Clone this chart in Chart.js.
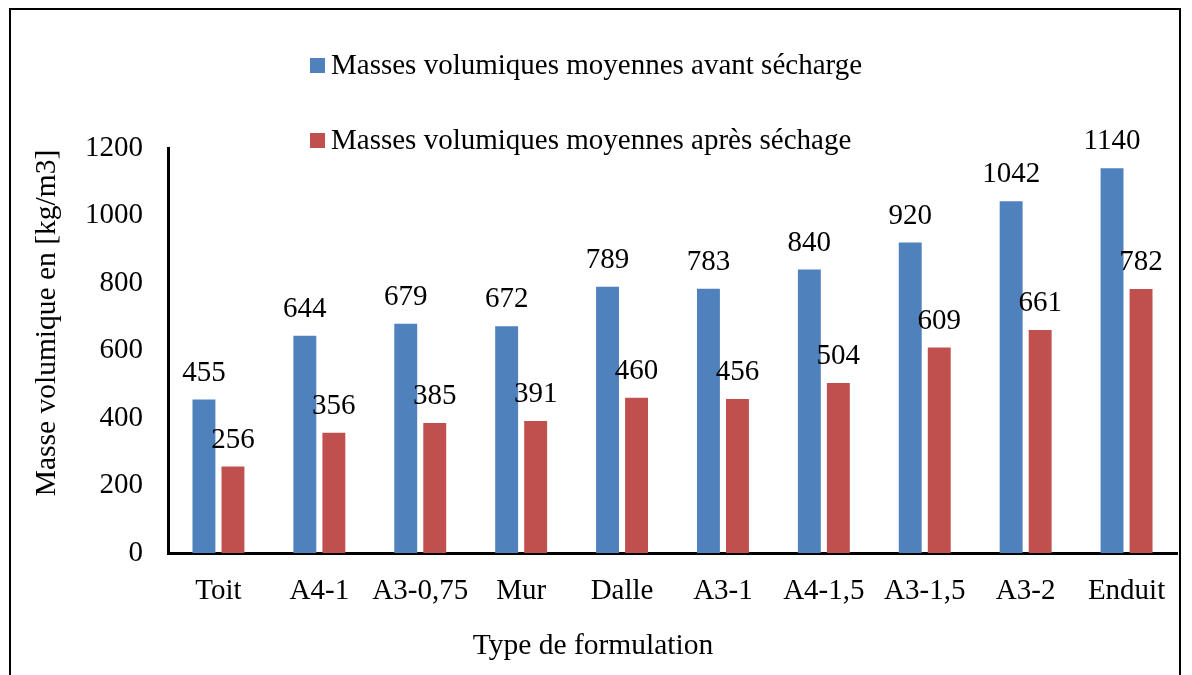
<!DOCTYPE html>
<html>
<head>
<meta charset="utf-8">
<script src="https://cdn.jsdelivr.net/npm/chart.js@4.4.1/dist/chart.umd.min.js"></script>
<style>
  html, body { margin: 0; padding: 0; background: #fff; }
  #wrap { width: 1192px; height: 675px; position: relative; }
</style>
</head>
<body>
<div id="wrap"><canvas id="chartMasses"></canvas></div>
<script>
// données
const categories = ['Toit', 'A4-1', 'A3-0,75', 'Mur', 'Dalle', 'A3-1', 'A4-1,5', 'A3-1,5', 'A3-2', 'Enduit'];
const avantSechage = [455, 644, 679, 672, 789, 783, 840, 920, 1042, 1140];
const apresSechage = [256, 356, 385, 391, 460, 456, 504, 609, 661, 782];
const yTicks = [0, 200, 400, 600, 800, 1000, 1200];

const FONT = '"Liberation Serif", "Times New Roman", serif';

// cadre, légende, titres des axes et étiquettes de valeurs
const decorPlugin = {
    id: 'decor',
    afterDraw(chart) {
        const ctx = chart.ctx;
        ctx.save();
        // cadre extérieur
        ctx.strokeStyle = '#000';
        ctx.lineWidth = 2;
        ctx.strokeRect(10, 9, 1170, 680);

        // étiquettes au-dessus des barres
        ctx.fillStyle = '#000';
        ctx.font = '29px ' + FONT;
        ctx.textAlign = 'center';
        ctx.textBaseline = 'bottom';
        chart.data.datasets.forEach((ds, i) => {
            chart.getDatasetMeta(i).data.forEach((bar, j) => {
                ctx.fillText(ds.data[j], bar.x, bar.y - 12);
            });
        });

        // légende verticale
        ctx.font = '29px ' + FONT;
        ctx.textAlign = 'left';
        ctx.textBaseline = 'middle';
        chart.data.datasets.forEach((ds, i) => {
            const y = 66 + i * 75;
            ctx.fillStyle = ds.backgroundColor;
            ctx.fillRect(310, y - 8, 15, 15);
            ctx.fillStyle = '#000';
            ctx.fillText(ds.label, 331, y);
        });

        // titre axe Y
        ctx.font = '29.5px ' + FONT;
        ctx.textAlign = 'center';
        ctx.save();
        ctx.translate(47, 323);
        ctx.rotate(-Math.PI / 2);
        ctx.fillText('Masse volumique en [kg/m3]', 0, 0);
        ctx.restore();

        // titre axe X
        ctx.fillText('Type de formulation', 593, 646);
        ctx.restore();
    }
};

new Chart(document.getElementById('chartMasses'), {
    type: 'bar',
    data: {
        labels: categories,
        datasets: [
            { label: 'Masses volumiques moyennes avant sécharge', data: avantSechage, backgroundColor: '#4F81BD' },
            { label: 'Masses volumiques moyennes après séchage', data: apresSechage, backgroundColor: '#C0504D' }
        ]
    },
    options: {
        responsive: true,
        maintainAspectRatio: false,
        animation: false,
        categoryPercentage: 0.575,
        barPercentage: 0.79,
        layout: { padding: { top: 148, right: 15, left: 0, bottom: 0 } },
        plugins: {
            legend: { display: false },
            tooltip: { enabled: false }
        },
        scales: {
            x: {
                grid: { display: false, drawTicks: false },
                border: { color: '#000', width: 3 },
                ticks: {
                    color: '#000',
                    font: { family: FONT, size: 29 },
                    padding: 21,
                    maxRotation: 0,
                    minRotation: 0,
                    autoSkip: false
                },
                afterFit(scale) { scale.height = 675 - 553; }
            },
            y: {
                min: 0,
                max: 1200,
                afterBuildTicks(scale) { scale.ticks = yTicks.map(v => ({ value: v })); },
                grid: { display: false, drawTicks: false },
                border: { color: '#000', width: 3 },
                ticks: {
                    color: '#000',
                    font: { family: FONT, size: 29 },
                    padding: 25,
                    callback: v => String(v)
                },
                afterFit(scale) { scale.width = 168; }
            }
        }
    },
    plugins: [decorPlugin]
});
</script>
</body>
</html>
